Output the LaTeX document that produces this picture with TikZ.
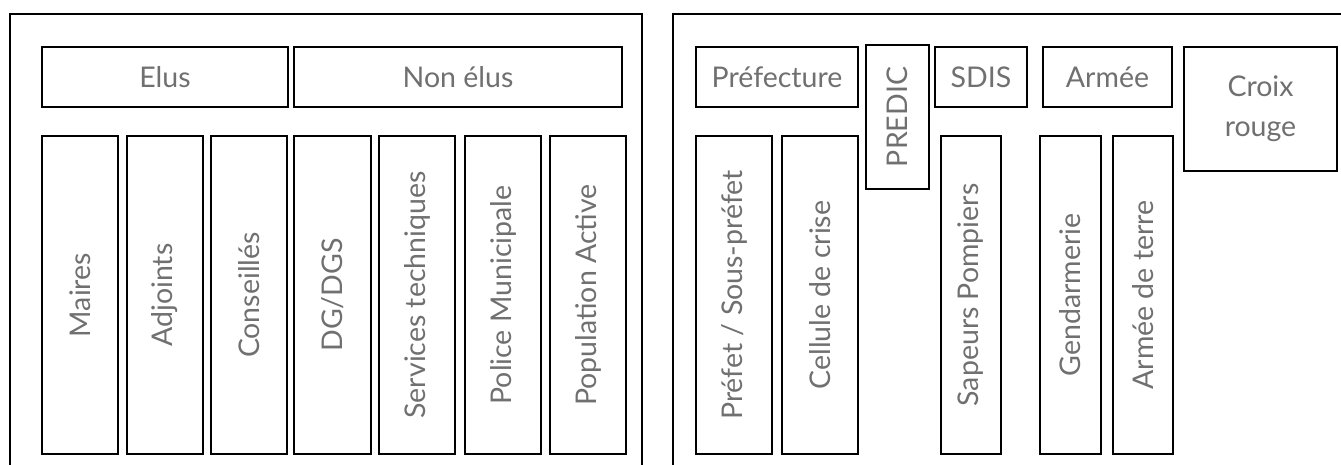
\documentclass[tikz,border=0pt]{standalone}
\usepackage{fontspec}
\newfontfamily\labelfont{Lato}
\definecolor{txtgray}{HTML}{707070}
\tikzset{
  box/.style={draw=black, line width=1.8pt, inner sep=0pt, outer sep=0pt,
    text=txtgray, font=\labelfont\fontsize{28.5}{40}\selectfont, align=center},
  frame/.style={draw=black, line width=2pt}
}
\begin{document}
\begin{tikzpicture}[x=1pt,y=-1pt]
\useasboundingbox (0,0) rectangle (1341,464);
\clip (0,0) rectangle (1341,464);
% outer frames
\draw[frame] (10,14) rectangle (642,490);
\draw[frame] (673,14) rectangle (1360,490);
% left panel headers
\node[box, minimum width=246, minimum height=60] (elus) at (165,77) {Elus};
\node[box, minimum width=328, minimum height=60] (nonelus) at (458,77) {Non élus};
% left panel columns
\node[box, rotate=90, minimum width=318, minimum height=76] (maires) at (80,295) {Maires};
\node[box, rotate=90, minimum width=318, minimum height=76] (adjoints) at (165,295) {Adjoints};
\node[box, rotate=90, minimum width=318, minimum height=76] (conseilles) at (249,295) {Conseillés};
\node[box, rotate=90, minimum width=318, minimum height=77] (dg) at (332.5,295) {DG/DGS};
\node[box, rotate=90, minimum width=318, minimum height=76] (services) at (417,295) {Services techniques};
\node[box, rotate=90, minimum width=318, minimum height=76] (police) at (503,295) {Police Municipale};
\node[box, rotate=90, minimum width=318, minimum height=76] (population) at (588,295) {Population Active};
% right panel headers
\node[box, minimum width=162, minimum height=60] (prefecture) at (777,77) {Préfecture};
\node[box, rotate=90, minimum width=144, minimum height=63] (predic) at (897.5,117) {PREDIC};
\node[box, minimum width=92, minimum height=60] (sdis) at (981,77) {SDIS};
\node[box, minimum width=129, minimum height=60] (armee) at (1107.5,77) {Armée};
\node[box, minimum width=153, minimum height=124] (croix) at (1260.5,109) {Croix\\rouge};
% right panel columns
\node[box, rotate=90, minimum width=318, minimum height=76] (prefet) at (734,295) {Préfet / Sous-préfet};
\node[box, rotate=90, minimum width=318, minimum height=76] (cellule) at (820,295) {Cellule de crise};
\node[box, rotate=90, minimum width=318, minimum height=60] (sapeurs) at (971,295) {Sapeurs Pompiers};
\node[box, rotate=90, minimum width=318, minimum height=61] (gendarmerie) at (1070.5,295) {Gendarmerie};
\node[box, rotate=90, minimum width=318, minimum height=60] (armeeterre) at (1143,295) {Armée de terre};
\end{tikzpicture}
\end{document}
